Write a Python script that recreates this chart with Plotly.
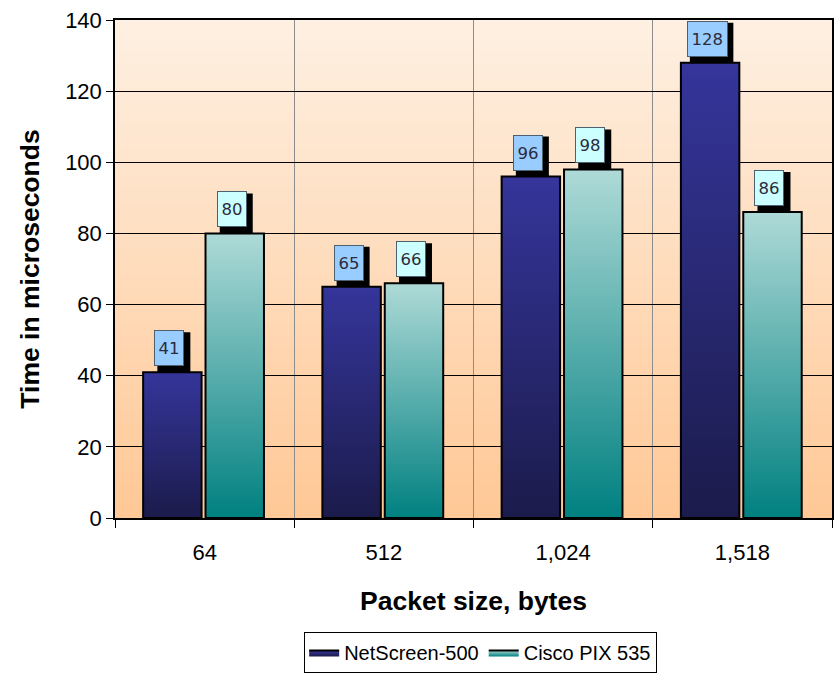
import base64
import struct
import zlib

import plotly.graph_objects as go

# ---------------- data ----------------
categories = ["64", "512", "1,024", "1,518"]
netscreen = [41, 65, 96, 128]
cisco = [80, 66, 98, 86]
y_tickvals = [0, 20, 40, 60, 80, 100, 120, 140]

series = [
    dict(name="NetScreen-500", values=netscreen, offset=-0.18,
         bottom="#1b1b4b", top="#35359b", label_bg="#99ccff"),
    dict(name="Cisco PIX 535", values=cisco, offset=0.168,
         bottom="#008080", top="#aedad7", label_bg="#ccffff"),
]
BAR_W = 0.326
LABEL_FONT = 16.5
DIGIT_W = 10.5


# ---------------- background gradient image ----------------
def gradient_png(top, bottom, n=256):
    rows = []
    for r in range(n):
        t = r / (n - 1)
        px = bytes(int(round(top[k] + (bottom[k] - top[k]) * t)) for k in range(3))
        rows.append(b"\x00" + px)
    raw = b"".join(rows)

    def chunk(tag, data):
        c = tag + data
        return struct.pack(">I", len(data)) + c + struct.pack(">I", zlib.crc32(c) & 0xFFFFFFFF)

    png = b"\x89PNG\r\n\x1a\n"
    png += chunk(b"IHDR", struct.pack(">IIBBBBB", 1, n, 8, 2, 0, 0, 0))
    png += chunk(b"IDAT", zlib.compress(raw, 9))
    png += chunk(b"IEND", b"")
    return "data:image/png;base64," + base64.b64encode(png).decode()


bg_src = gradient_png((254, 240, 226), (255, 200, 150))

fig = go.Figure()

# ---------------- bars (gradient-filled polygons) ----------------
for s in series:
    for i, v in enumerate(s["values"]):
        c = i + s["offset"]
        x0, x1 = c - BAR_W / 2, c + BAR_W / 2
        fig.add_trace(go.Scatter(
            x=[x0, x1, x1, x0, x0],
            y=[0, 0, v, v, 0],
            mode="lines",
            fill="toself",
            fillgradient=dict(type="vertical", colorscale=[[0, s["bottom"]], [1, s["top"]]],
                              start=0, stop=v),
            line=dict(color="black", width=2),
            name=s["name"],
            legendgroup=s["name"],
            showlegend=(i == 0),
            hoverinfo="skip",
        ))

# ---------------- value labels with shadow ----------------
for s in series:
    for i, v in enumerate(s["values"]):
        c = i + s["offset"]
        txt = str(v)
        tw = len(txt) * DIGIT_W + 1          # text box width in px
        box_w = tw + 2 * 3 + 2              # plus pad and border
        box_shift = -3
        # shadow (pixel-sized shape anchored at bar top)
        fig.add_shape(type="rect", xref="x", yref="y",
                      xsizemode="pixel", ysizemode="pixel",
                      xanchor=c, yanchor=v,
                      x0=box_shift - box_w / 2 + 3, x1=box_shift + box_w / 2 + 6,
                      y0=0, y1=40,
                      fillcolor="black", line=dict(width=0), layer="above")
        fig.add_annotation(x=c, y=v, xref="x", yref="y", text=txt, showarrow=False,
                           yanchor="bottom", width=tw, height=28, borderpad=3,
                           borderwidth=1, bgcolor=s["label_bg"], bordercolor="#4d6070",
                           xshift=box_shift, yshift=6,
                           font=dict(family="DejaVu Sans", size=LABEL_FONT, color="#2b2b3b"))

bounds = [i - 0.5 for i in range(len(categories) + 1)]

fig.update_layout(
    width=837, height=673,
    margin=dict(l=115, r=5, t=20, b=155),
    paper_bgcolor="white",
    plot_bgcolor="rgba(0,0,0,0)",
    font=dict(family="Liberation Sans, Arial, sans-serif", size=21, color="black"),
    images=[dict(source=bg_src, xref="paper", yref="paper", x=0, y=1, sizex=1, sizey=1,
                 sizing="stretch", xanchor="left", yanchor="top", layer="below")],
    showlegend=True,
    legend=dict(orientation="h", x=0.51, xanchor="center",
                yref="container", y=1 - 632 / 673, yanchor="top",
                bordercolor="black", borderwidth=1, bgcolor="white",
                font=dict(size=20), itemwidth=30, tracegroupgap=0),
    xaxis=dict(
        range=[-0.5, len(categories) - 0.5],
        tickvals=list(range(len(categories))), ticktext=categories,
        tickfont=dict(size=22),
        ticks="outside", ticklen=8, tickcolor="rgba(0,0,0,0)",
        ticklabelstandoff=6,
        showgrid=False, zeroline=False,
        showline=True, linecolor="black", linewidth=1.5, mirror=True,
        minor=dict(tickmode="array", tickvals=bounds, ticks="outside", ticklen=8,
                   tickcolor="black", tickwidth=1, showgrid=True, gridcolor="#8c8c8c",
                   gridwidth=1),
        title=dict(text="<b>Packet size, bytes</b>", font=dict(size=26.5), standoff=27),
        automargin=False, fixedrange=True,
    ),
    yaxis=dict(
        range=[0, 140], tickvals=y_tickvals,
        tickfont=dict(size=22),
        ticks="outside", ticklen=7, tickcolor="black",
        showgrid=True, gridcolor="black", gridwidth=1.3, zeroline=False,
        showline=True, linecolor="black", linewidth=1.5, mirror=True,
        title=dict(text="<b>Time in microseconds</b>", font=dict(size=26.5), standoff=18),
        automargin=False, fixedrange=True,
    ),
)

fig.write_html("out.html")
